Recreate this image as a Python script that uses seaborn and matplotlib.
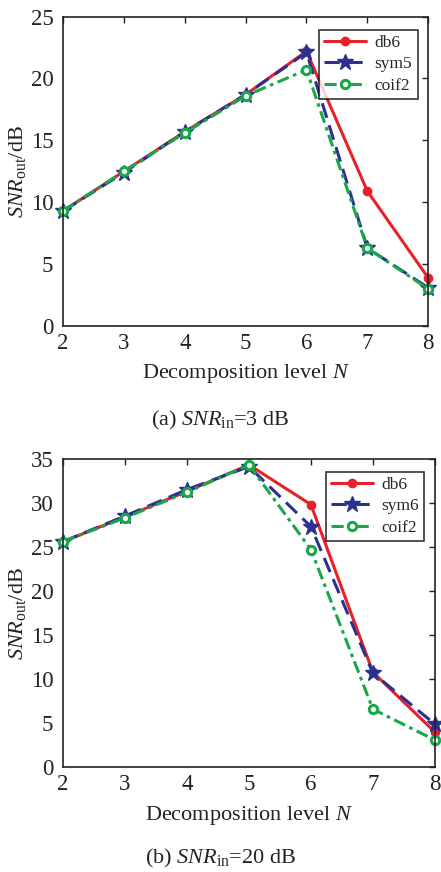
import matplotlib
matplotlib.use("Agg")
import matplotlib.pyplot as plt
import seaborn as sns
import pandas as pd

levels = [2, 3, 4, 5, 6, 7, 8]

a_db6 = [9.3, 12.5, 15.7, 18.7, 22.2, 10.9, 3.9]
a_sym5 = [9.3, 12.4, 15.7, 18.7, 22.1, 6.3, 3.1]
a_coif2 = [9.3, 12.5, 15.6, 18.6, 20.7, 6.3, 3.0]

b_db6 = [25.6, 28.4, 31.3, 34.3, 29.8, 10.8, 4.0]
b_sym6 = [25.6, 28.5, 31.5, 34.1, 27.3, 10.7, 4.9]
b_coif2 = [25.6, 28.3, 31.2, 34.3, 24.7, 6.6, 3.1]

yticks_a = [0, 5, 10, 15, 20, 25]
yticks_b = [0, 5, 10, 15, 20, 25, 30, 35]

sns.set_theme(style="white")
plt.rcParams['font.family'] = ['Liberation Serif', 'DejaVu Serif']
plt.rcParams['mathtext.fontset'] = 'custom'
plt.rcParams['mathtext.rm'] = 'Liberation Serif'
plt.rcParams['mathtext.it'] = 'Liberation Serif:italic'

fig = plt.figure(figsize=(4.41, 8.72), dpi=100)
ax1 = fig.add_axes([0.143, 0.626, 0.828, 0.355])
ax2 = fig.add_axes([0.143, 0.120, 0.843, 0.354])

styles = [
    dict(color="#e8202a", marker="o", ls="-", ms=6, mfc="#e8202a", mec="#e8202a", lw=2.2),
    dict(color="#2b3190", marker="*", ls=(0, (5, 2.5)), ms=12, mfc="#2b3190", mec="#2b3190", lw=2.2),
    dict(color="#18a84a", marker="o", ls=(0, (4, 1.5, 1.2, 1.5)), ms=6, mfc="white", mec="#18a84a", mew=2.2, lw=2.2),
]

def draw(ax, series, names, yticks, ymax, legend_loc):
    for vals, name, st in zip(series, names, styles):
        df = pd.DataFrame({"N": levels, "v": vals})
        sns.lineplot(data=df, x="N", y="v", ax=ax, label=name, color=st["color"],
                     marker=st["marker"], linestyle=st["ls"], linewidth=st["lw"],
                     markersize=st["ms"], markerfacecolor=st["mfc"],
                     markeredgecolor=st["mec"], markeredgewidth=st.get("mew", 1.0),
                     clip_on=False)
    ax.set_xlim(2, 8)
    ax.set_ylim(0, ymax)
    ax.set_xticks(levels)
    ax.set_yticks(yticks)
    ax.tick_params(direction="in", top=True, right=True, length=4, width=1,
                   labelsize=16.5, colors="#222222")
    ax.tick_params(axis="x", pad=5)
    ax.tick_params(axis="y", pad=7)
    for sp in ax.spines.values():
        sp.set_linewidth(1.2)
        sp.set_color("#222222")
        sp.set_visible(True)
    ax.set_xlabel(r"Decomposition level $N$", fontsize=16, color="#222222", labelpad=6)
    ax.set_ylabel(r"$SNR_{\mathrm{out}}$/dB", fontsize=16, color="#222222", labelpad=2)
    leg = ax.legend(loc="upper right", bbox_to_anchor=legend_loc, frameon=True,
                    fancybox=False, edgecolor="black", fontsize=12.5,
                    handlelength=2.4, borderpad=0.3, labelspacing=0.3,
                    handletextpad=0.5, borderaxespad=0.3)
    leg.get_frame().set_linewidth(1.2)

draw(ax1, [a_db6, a_sym5, a_coif2], ["db6", "sym5", "coif2"], yticks_a, 25, (0.985, 0.975))
draw(ax2, [b_db6, b_sym6, b_coif2], ["db6", "sym6", "coif2"], yticks_b, 35, (0.985, 0.975))

fig.text(0.5, 0.518, r"(a) $SNR_{\mathrm{in}}$=3 dB", ha="center", va="center", fontsize=16, color="#222222")
fig.text(0.5, 0.016, r"(b) $SNR_{\mathrm{in}}$=20 dB", ha="center", va="center", fontsize=16, color="#222222")

fig.savefig("out.png", dpi=100)
